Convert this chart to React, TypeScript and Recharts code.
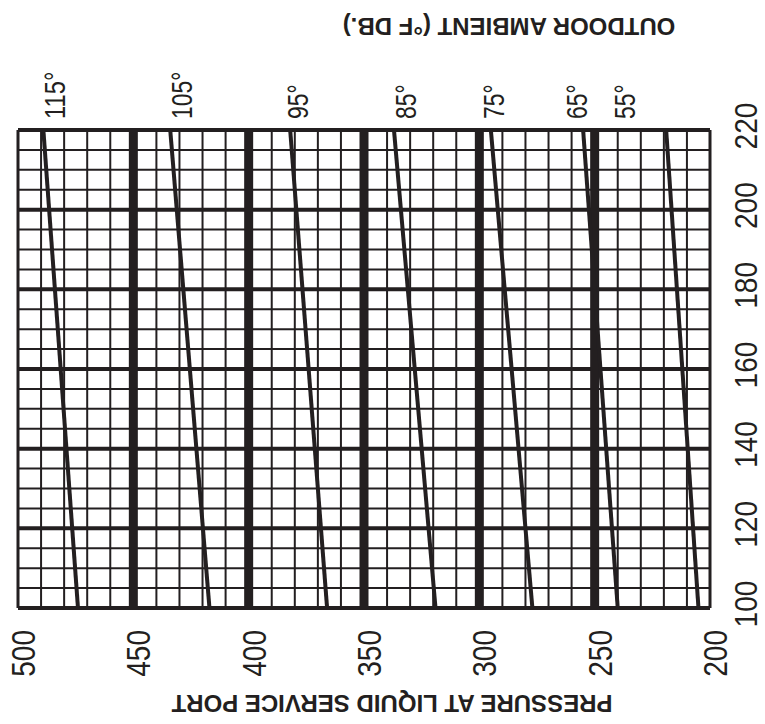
import React from 'react';
import { ComposedChart, Line, XAxis, YAxis, ReferenceLine } from 'recharts';

// ─── Data ─────────────────────────────────────────────────────────────────────

const ambientTemps = [115, 105, 95, 85, 75, 65, 55];
// liquid pressure (psig) where each ambient line meets the 100 and 220 edges
const pressureAtBottom = [474, 417, 366, 319, 277, 240, 205];
const pressureAtTop = [489, 434, 382, 337, 295, 255, 219];
// where the ambient labels sit along the top edge
const labelPressures = [484, 429, 379, 332, 294, 258, 237];

const pressureTicks = [200, 250, 300, 350, 400, 450, 500];
const rightTicks = [100, 120, 140, 160, 180, 200, 220];

const INK = '#231f20';
const FONT = '"Liberation Sans", Arial, Helvetica, sans-serif';

// minor / major grid values
const minorPressure: number[] = [];
for (let p = 210; p < 500; p += 10) if (p % 50 !== 0) minorPressure.push(p);
const majorPressure = [250, 300, 350, 400, 450];
const edgePressure = [200, 500];
const minorRight: number[] = [];
for (let v = 105; v < 220; v += 5) if (v % 20 !== 0) minorRight.push(v);

// ─── Ticks ────────────────────────────────────────────────────────────────────
// the scan's digits are tall and narrow, so squeeze them with textLength

function BottomTick({ x, payload }: any) {
  const tx = x + 5;
  const s = String(payload.value);
  return (
    <text
      x={tx}
      y={630}
      transform={`rotate(-90 ${tx} 630)`}
      textAnchor="end"
      dominantBaseline="central"
      fontSize={34}
      textLength={s.length * 15.6}
      lengthAdjust="spacingAndGlyphs"
      fontFamily={FONT}
      fill={INK}
    >
      {s}
    </text>
  );
}

function RightTick({ y, payload }: any) {
  const tx = 746;
  const ty = y - 4;
  const s = String(payload.value);
  return (
    <text
      x={tx}
      y={ty}
      transform={`rotate(-90 ${tx} ${ty})`}
      textAnchor="middle"
      dominantBaseline="central"
      fontSize={32}
      textLength={s.length * 15.6}
      lengthAdjust="spacingAndGlyphs"
      fontFamily={FONT}
      fill={INK}
    >
      {s}
    </text>
  );
}

function TempTick({ x, payload }: any) {
  const i = labelPressures.indexOf(payload.value);
  const digits = String(ambientTemps[i]).length;
  return (
    <text
      x={x}
      y={119}
      transform={`rotate(-90 ${x} 119)`}
      textAnchor="start"
      dominantBaseline="central"
      fontSize={30}
      textLength={digits * 12.8 + 9}
      lengthAdjust="spacingAndGlyphs"
      fontFamily={FONT}
      fill={INK}
    >
      {`${ambientTemps[i]}°`}
    </text>
  );
}

const titleStyle: React.CSSProperties = {
  position: 'absolute',
  transform: 'translate(-50%, -50%) rotate(180deg)',
  whiteSpace: 'nowrap',
  fontFamily: FONT,
  fontWeight: 'bold',
  fontSize: 24,
  lineHeight: 1,
  color: INK,
};

export default function App() {
  return (
    <div style={{ position: 'absolute', left: 0, top: 0, width: 765, height: 724, background: '#fff' }}>
      <ComposedChart width={765} height={724} margin={{ top: 70, right: 10, bottom: 56, left: 18 }}>
        <XAxis
          xAxisId="bottom"
          dataKey="p"
          type="number"
          domain={[200, 500]}
          reversed
          allowDataOverflow
          ticks={pressureTicks}
          interval={0}
          axisLine={false}
          tickLine={false}
          height={60}
          tick={<BottomTick />}
        />
        <XAxis
          xAxisId="top"
          orientation="top"
          dataKey="p"
          type="number"
          domain={[200, 500]}
          reversed
          allowDataOverflow
          ticks={labelPressures}
          interval={0}
          axisLine={false}
          tickLine={false}
          height={60}
          tick={<TempTick />}
        />
        <YAxis
          yAxisId="r"
          orientation="right"
          type="number"
          domain={[100, 220]}
          allowDataOverflow
          ticks={rightTicks}
          interval={0}
          axisLine={false}
          tickLine={false}
          width={45}
          tick={<RightTick />}
        />

        {/* grid */}
        {minorPressure.map((p) => (
          <ReferenceLine key={`mp-${p}`} xAxisId="bottom" yAxisId="r" x={p} stroke={INK} strokeWidth={2} />
        ))}
        {minorRight.map((v) => (
          <ReferenceLine key={`mr-${v}`} xAxisId="bottom" yAxisId="r" y={v} stroke={INK} strokeWidth={2} />
        ))}
        {rightTicks.map((v) => (
          <ReferenceLine key={`Mr-${v}`} xAxisId="bottom" yAxisId="r" y={v} stroke={INK} strokeWidth={4} />
        ))}
        {edgePressure.map((p) => (
          <ReferenceLine key={`ep-${p}`} xAxisId="bottom" yAxisId="r" x={p} stroke={INK} strokeWidth={3} />
        ))}
        {majorPressure.map((p) => (
          <ReferenceLine key={`Mp-${p}`} xAxisId="bottom" yAxisId="r" x={p} stroke={INK} strokeWidth={9} />
        ))}

        {/* ambient lines */}
        {ambientTemps.map((t, i) => (
          <Line
            key={`amb-${t}`}
            xAxisId="bottom"
            yAxisId="r"
            data={[
              { p: pressureAtBottom[i], v: 100 },
              { p: pressureAtTop[i], v: 220 },
            ]}
            dataKey="v"
            type="linear"
            stroke={INK}
            strokeWidth={4}
            dot={false}
            activeDot={false}
            isAnimationActive={false}
          />
        ))}
      </ComposedChart>
      <div style={{ ...titleStyle, left: 509, top: 26 }}>OUTDOOR AMBIENT (°F DB.)</div>
      <div style={{ ...titleStyle, left: 392, top: 703 }}>PRESSURE AT LIQUID SERVICE PORT</div>
    </div>
  );
}
